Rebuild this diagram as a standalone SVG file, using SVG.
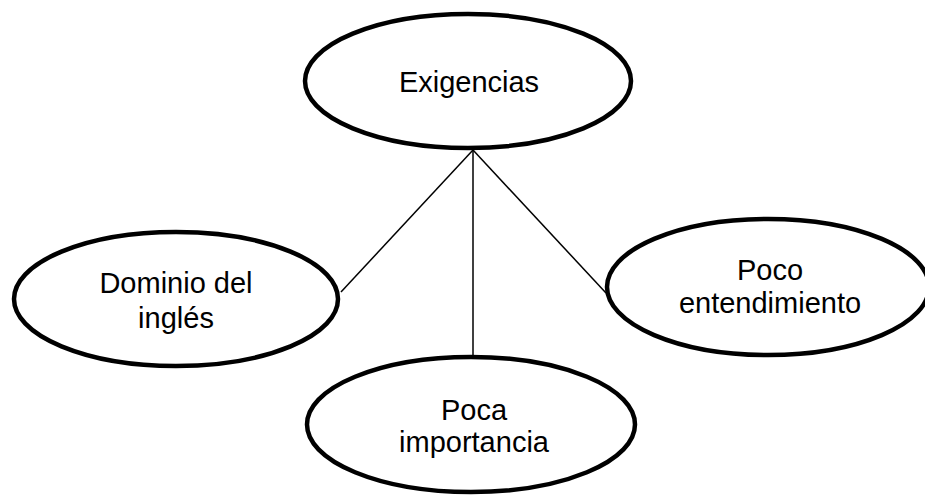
<svg xmlns="http://www.w3.org/2000/svg" width="925" height="496" viewBox="0 0 925 496">
  <style>
    .node ellipse { fill: #ffffff; stroke: #000000; stroke-width: 4.5; }
    .node text { font-family: "Liberation Sans", Arial, sans-serif; font-size: 29px; fill: #000000; text-anchor: middle; }
    .edges line { stroke: #000000; stroke-width: 1.5; }
  </style>
  <rect width="925" height="496" fill="#ffffff"/>
  <g id="edges" class="edges">
    <line x1="473" y1="150" x2="341" y2="292"/>
    <line x1="473" y1="150" x2="473" y2="356"/>
    <line x1="473" y1="150" x2="606" y2="293"/>
  </g>
  <g id="exigencias" class="node">
    <ellipse cx="468" cy="81" rx="163" ry="67"/>
    <text x="469" y="92">Exigencias</text>
  </g>
  <g id="dominio" class="node">
    <ellipse cx="176" cy="299" rx="162" ry="67"/>
    <text x="176" y="293">Dominio del</text>
    <text x="176" y="328">inglés</text>
  </g>
  <g id="entendimiento" class="node">
    <ellipse cx="768" cy="287" rx="161" ry="68"/>
    <text x="770" y="280">Poco</text>
    <text x="770" y="313">entendimiento</text>
  </g>
  <g id="importancia" class="node">
    <ellipse cx="471" cy="424.5" rx="164" ry="67.5"/>
    <text x="474" y="420">Poca</text>
    <text x="474" y="452">importancia</text>
  </g>
</svg>
